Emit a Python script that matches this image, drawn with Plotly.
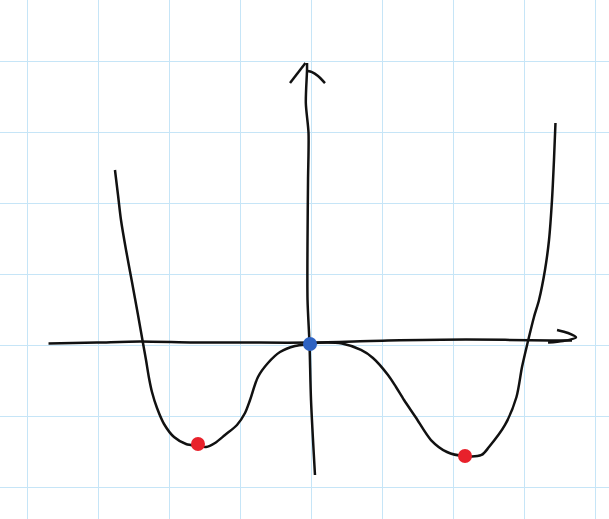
import plotly.graph_objects as go

# Hand-sketched curve (grid units, origin at axes crossing)
curve_x = [-2.772, -2.729, -2.687, -2.616, -2.532, -2.447, -2.377, -2.334, -2.292, -2.250,
           -2.179, -2.080, -1.939, -1.770, -1.601, -1.488, -1.361, -1.220, -1.051, -0.938,
           -0.867, -0.755, -0.614, -0.444, -0.233, -0.035, 0.148, 0.430, 0.698, 0.867,
           1.079, 1.192, 1.305, 1.467, 1.685, 1.911, 2.151, 2.398, 2.503, 2.729,
           2.891, 2.969, 3.047, 3.138, 3.209, 3.293, 3.350, 3.392, 3.420, 3.441]
curve_y = [2.475, 2.123, 1.770, 1.347, 0.896, 0.430, 0.035, -0.205, -0.458, -0.656,
           -0.882, -1.107, -1.291, -1.389, -1.417, -1.432, -1.375, -1.262, -1.121, -0.952,
           -0.769, -0.444, -0.247, -0.092, -0.007, 0.021, 0.042, 0.028, -0.063, -0.176,
           -0.416, -0.585, -0.769, -1.008, -1.333, -1.502, -1.559, -1.544, -1.432, -1.121,
           -0.726, -0.303, 0.035, 0.402, 0.642, 1.065, 1.488, 2.052, 2.616, 3.138]

# Hand-drawn axes
yaxis_x = [0.049, -0.007, -0.028, -0.056, -0.056, -0.049, -0.042, -0.080, -0.063, -0.063]
yaxis_y = [-1.827, -0.769, 0.021, 0.642, 1.488, 2.333, 2.997, 3.420, 3.886, 3.984]
yarrow_l_x = [-0.303, -0.085]
yarrow_l_y = [3.702, 3.984]
yarrow_r_x = [-0.056, 0.007, 0.092, 0.190]
yarrow_r_y = [3.872, 3.857, 3.801, 3.702]

xaxis_x = [-3.709, -3.025, -2.419, -1.657, -0.994, -0.007, 1.079, 2.179, 3.378, 3.674]
xaxis_y = [0.028, 0.042, 0.056, 0.042, 0.042, 0.042, 0.071, 0.085, 0.071, 0.071]
xarrow_x = [3.463, 3.618, 3.731, 3.547, 3.336]
xarrow_y = [0.219, 0.176, 0.116, 0.063, 0.042]

# Marked points
min_x = [-1.601, 2.165]
min_y = [-1.389, -1.558]
max_x = [-0.021]
max_y = [0.021]

ink = "#111111"
fig = go.Figure()

def stroke(xs, ys, w=2.5):
    fig.add_trace(go.Scatter(x=xs, y=ys, mode="lines",
                             line=dict(color=ink, width=w, shape="spline", smoothing=0.8),
                             hoverinfo="skip"))

stroke(xaxis_x, xaxis_y)
stroke(xarrow_x, xarrow_y)
stroke(yaxis_x, yaxis_y)
stroke(yarrow_l_x, yarrow_l_y)
stroke(yarrow_r_x, yarrow_r_y)
stroke(curve_x, curve_y)

fig.add_trace(go.Scatter(x=min_x, y=min_y, mode="markers",
                         marker=dict(color="#e8212b", size=14, line=dict(width=0))))
fig.add_trace(go.Scatter(x=max_x, y=max_y, mode="markers",
                         marker=dict(color="#2e62c2", size=14, line=dict(width=0))))

axis_common = dict(showgrid=True, gridcolor="#c6e5f7", gridwidth=1, dtick=1, tick0=0,
                   showticklabels=False, ticks="", zeroline=False, showline=False,
                   fixedrange=True)
fig.update_layout(
    width=609, height=519, autosize=False,
    margin=dict(l=0, r=0, t=0, b=0, pad=0),
    paper_bgcolor="white", plot_bgcolor="white",
    showlegend=False,
    xaxis=dict(range=[-4.3935, 4.196], **axis_common),
    yaxis=dict(range=[-2.447, 4.873], **axis_common),
)

fig.write_html("out.html", config={"displayModeBar": False},
               post_script="document.body.style.margin='0';document.body.style.overflow='hidden';")
